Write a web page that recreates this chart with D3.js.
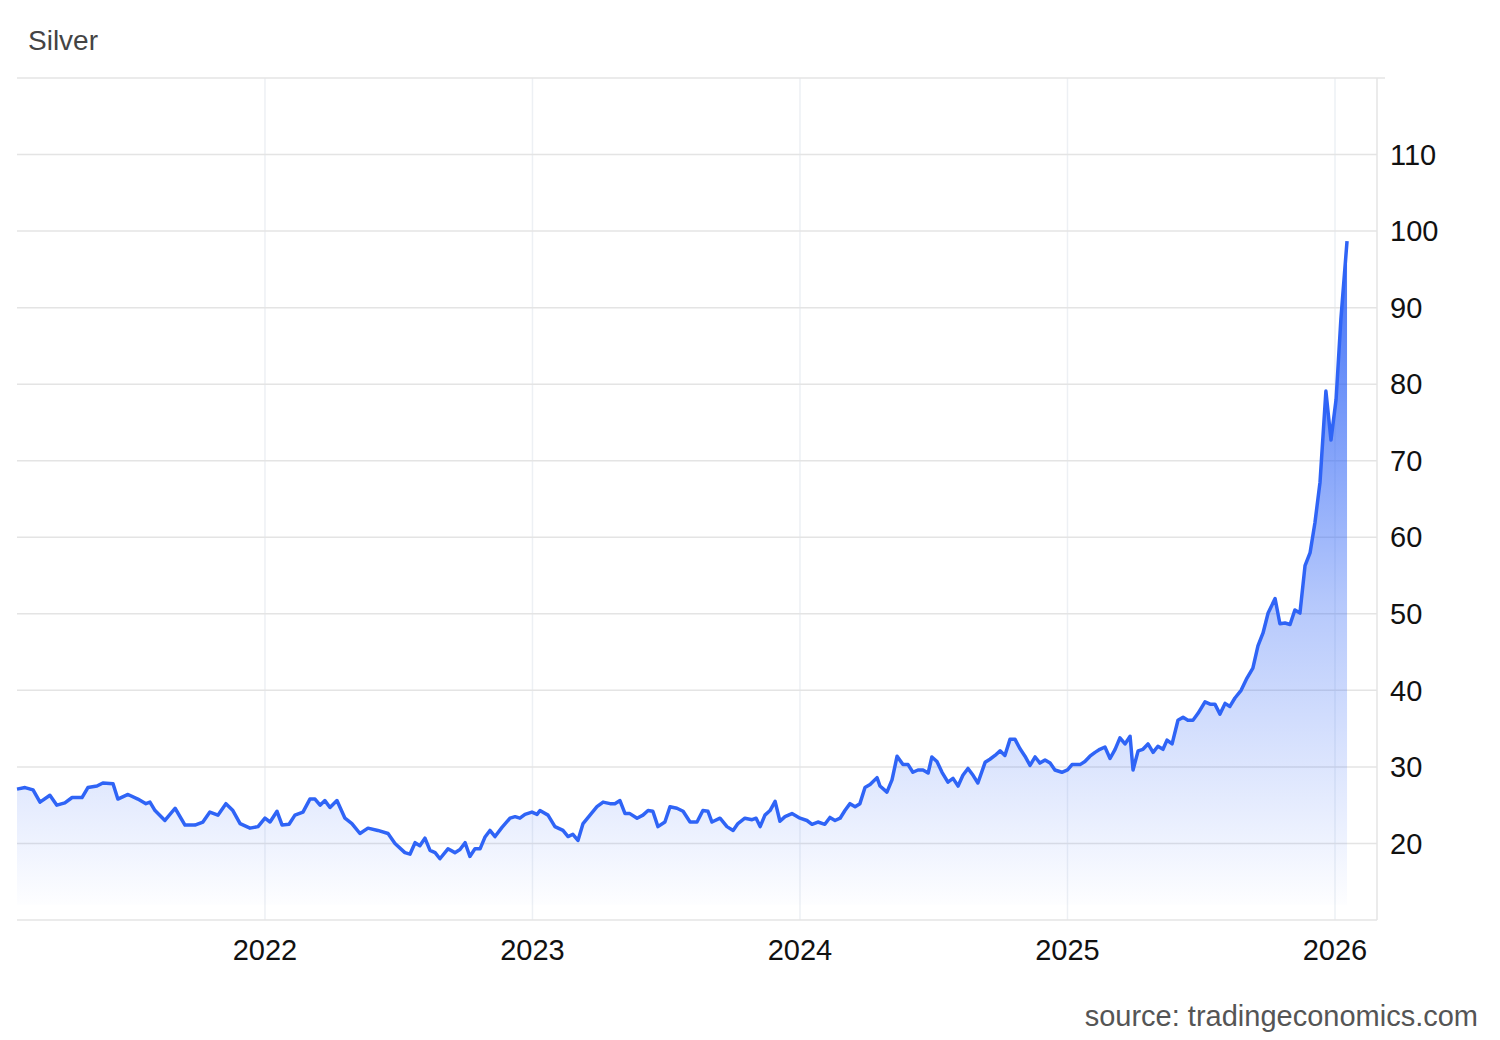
<!DOCTYPE html>
<html>
<head>
<meta charset="utf-8">
<script src="https://cdn.jsdelivr.net/npm/d3@7"></script>
<style>
  body { margin: 0; background: #fff; }
  svg text { font-family: "Liberation Sans", Arial, sans-serif; }
</style>
</head>
<body>
<div id="chart"></div>
<script>
'use strict';

var years = [
  2021.073, 2021.103, 2021.133, 2021.159, 2021.196, 2021.222, 2021.252, 2021.279, 2021.316, 2021.338,
  2021.372, 2021.394, 2021.432, 2021.450, 2021.488, 2021.525, 2021.555, 2021.570, 2021.589, 2021.626,
  2021.664, 2021.701, 2021.738, 2021.768, 2021.794, 2021.824, 2021.854, 2021.880, 2021.907, 2021.944,
  2021.974, 2022.000, 2022.019, 2022.045, 2022.064, 2022.090, 2022.112, 2022.142, 2022.168, 2022.187,
  2022.206, 2022.224, 2022.243, 2022.269, 2022.299, 2022.325, 2022.355, 2022.385, 2022.422, 2022.460,
  2022.486, 2022.523, 2022.542, 2022.561, 2022.579, 2022.598, 2022.617, 2022.636, 2022.654, 2022.684,
  2022.710, 2022.729, 2022.748, 2022.766, 2022.785, 2022.804, 2022.822, 2022.841, 2022.860, 2022.886,
  2022.916, 2022.935, 2022.953, 2022.972, 2022.998, 2023.017, 2023.028, 2023.058, 2023.084, 2023.114,
  2023.133, 2023.151, 2023.170, 2023.189, 2023.215, 2023.241, 2023.264, 2023.290, 2023.308, 2023.327,
  2023.346, 2023.364, 2023.391, 2023.413, 2023.432, 2023.450, 2023.469, 2023.495, 2023.514, 2023.540,
  2023.563, 2023.589, 2023.615, 2023.637, 2023.656, 2023.671, 2023.701, 2023.727, 2023.750, 2023.768,
  2023.794, 2023.821, 2023.836, 2023.851, 2023.869, 2023.888, 2023.907, 2023.925, 2023.944, 2023.970,
  2024.000, 2024.026, 2024.045, 2024.067, 2024.093, 2024.112, 2024.131, 2024.150, 2024.168, 2024.187,
  2024.206, 2024.224, 2024.243, 2024.262, 2024.288, 2024.299, 2024.325, 2024.344, 2024.363, 2024.385,
  2024.404, 2024.422, 2024.441, 2024.460, 2024.479, 2024.493, 2024.512, 2024.531, 2024.553, 2024.572,
  2024.591, 2024.609, 2024.628, 2024.647, 2024.665, 2024.692, 2024.710, 2024.729, 2024.748, 2024.766,
  2024.785, 2024.804, 2024.822, 2024.841, 2024.860, 2024.879, 2024.897, 2024.916, 2024.935, 2024.953,
  2024.979, 2025.000, 2025.017, 2025.047, 2025.065, 2025.084, 2025.103, 2025.121, 2025.140, 2025.159,
  2025.178, 2025.196, 2025.215, 2025.234, 2025.245, 2025.264, 2025.282, 2025.301, 2025.320, 2025.338,
  2025.357, 2025.372, 2025.391, 2025.413, 2025.432, 2025.450, 2025.469, 2025.488, 2025.514, 2025.533,
  2025.551, 2025.570, 2025.589, 2025.607, 2025.626, 2025.649, 2025.671, 2025.693, 2025.712, 2025.731,
  2025.750, 2025.776, 2025.794, 2025.813, 2025.832, 2025.850, 2025.869, 2025.888, 2025.907, 2025.925,
  2025.944, 2025.966, 2025.985, 2026.004, 2026.022, 2026.045
];

var prices = [
  27.1, 27.3, 27.0, 25.4, 26.3, 25.0, 25.3, 26.0, 26.0, 27.3,
  27.5, 27.9, 27.8, 25.8, 26.4, 25.8, 25.2, 25.4, 24.3, 23.0,
  24.6, 22.4, 22.4, 22.8, 24.1, 23.7, 25.2, 24.3, 22.6, 22.0,
  22.2, 23.3, 22.8, 24.2, 22.4, 22.5, 23.7, 24.1, 25.8, 25.8,
  25.0, 25.6, 24.7, 25.6, 23.3, 22.6, 21.3, 22.0, 21.7, 21.3,
  20.0, 18.8, 18.6, 20.1, 19.7, 20.7, 19.1, 18.8, 18.0, 19.3,
  18.8, 19.2, 20.1, 18.3, 19.3, 19.3, 20.8, 21.7, 20.9, 22.1,
  23.3, 23.5, 23.3, 23.8, 24.1, 23.8, 24.3, 23.7, 22.2, 21.7,
  20.9, 21.2, 20.4, 22.6, 23.7, 24.8, 25.4, 25.2, 25.2, 25.6,
  23.9, 23.9, 23.3, 23.7, 24.3, 24.2, 22.2, 22.8, 24.8, 24.6,
  24.2, 22.8, 22.8, 24.3, 24.2, 22.8, 23.3, 22.2, 21.7, 22.6,
  23.3, 23.1, 23.3, 22.2, 23.7, 24.3, 25.5, 22.9, 23.5, 23.9,
  23.3, 23.0, 22.5, 22.8, 22.5, 23.4, 23.0, 23.3, 24.3, 25.2,
  24.8, 25.2, 27.3, 27.7, 28.6, 27.5, 26.7, 28.3, 31.4, 30.3,
  30.3, 29.3, 29.6, 29.6, 29.2, 31.3, 30.7, 29.3, 28.0, 28.5,
  27.5, 28.9, 29.8, 28.9, 27.9, 30.6, 31.0, 31.5, 32.1, 31.5,
  33.6, 33.6, 32.4, 31.4, 30.2, 31.3, 30.5, 30.9, 30.5, 29.6,
  29.3, 29.6, 30.3, 30.3, 30.7, 31.4, 31.9, 32.3, 32.6, 31.1,
  32.3, 33.8, 33.0, 34.0, 29.6, 32.1, 32.3, 33.0, 31.9, 32.7,
  32.3, 33.5, 33.0, 36.1, 36.5, 36.1, 36.1, 37.0, 38.5, 38.2,
  38.2, 36.9, 38.3, 37.9, 39.0, 40.0, 41.6, 42.9, 45.8, 47.5,
  50.1, 52.0, 48.7, 48.8, 48.6, 50.5, 50.1, 56.3, 58.0, 61.9,
  67.2, 79.1, 72.7, 78.0, 88.5, 98.7
];

var yTicks = [20, 30, 40, 50, 60, 70, 80, 90, 100, 110];
var xTicks = [2022, 2023, 2024, 2025, 2026];

var chartWidth = 1500, chartHeight = 1040;
var plotLeft = 17, plotRight = 1377, plotTop = 78, plotBottom = 920;
var lineColor = '#2f64f6';

var data = years.map(function(t, i) { return { t: t, v: prices[i] }; });

var x = d3.scaleLinear().domain([2021.073, 2026.157]).range([plotLeft, plotRight]);
var y = d3.scaleLinear().domain([10, 120]).range([plotBottom, plotTop]);

var svg = d3.select('#chart').append('svg')
  .attr('width', chartWidth)
  .attr('height', chartHeight);

var grad = svg.append('defs').append('linearGradient')
  .attr('id', 'fillGrad')
  .attr('gradientUnits', 'userSpaceOnUse')
  .attr('x1', 0).attr('x2', 0)
  .attr('y1', y(100)).attr('y2', y(11));
grad.append('stop').attr('offset', '0%').attr('stop-color', lineColor).attr('stop-opacity', 0.95);
grad.append('stop').attr('offset', '55%').attr('stop-color', lineColor).attr('stop-opacity', 0.35);
grad.append('stop').attr('offset', '100%').attr('stop-color', lineColor).attr('stop-opacity', 0.0);

// vertical grid
svg.append('g').selectAll('line').data(xTicks).join('line')
  .attr('x1', function(d) { return x(d); }).attr('x2', function(d) { return x(d); })
  .attr('y1', plotTop).attr('y2', plotBottom)
  .attr('stroke', '#edf0f4').attr('stroke-width', 1.5);

// horizontal grid
svg.append('g').selectAll('line').data(yTicks).join('line')
  .attr('x1', plotLeft).attr('x2', plotRight)
  .attr('y1', function(d) { return y(d); }).attr('y2', function(d) { return y(d); })
  .attr('stroke', '#e4e4e4').attr('stroke-width', 1.5);

// frame
svg.append('line').attr('x1', plotLeft).attr('x2', plotRight + 8).attr('y1', plotTop).attr('y2', plotTop)
  .attr('stroke', '#e4e4e4').attr('stroke-width', 1.5);
svg.append('line').attr('x1', plotLeft).attr('x2', plotRight).attr('y1', plotBottom).attr('y2', plotBottom)
  .attr('stroke', '#e4e4e4').attr('stroke-width', 1.5);
svg.append('line').attr('x1', plotRight).attr('x2', plotRight).attr('y1', plotTop).attr('y2', plotBottom)
  .attr('stroke', '#e4e4e4').attr('stroke-width', 1.5);

var area = d3.area()
  .x(function(d) { return x(d.t); })
  .y0(y(12))
  .y1(function(d) { return y(d.v); });

var line = d3.line()
  .x(function(d) { return x(d.t); })
  .y(function(d) { return y(d.v); });

svg.append('path').datum(data).attr('d', area).attr('fill', 'url(#fillGrad)');
svg.append('path').datum(data).attr('d', line)
  .attr('fill', 'none').attr('stroke', lineColor)
  .attr('stroke-width', 3.5).attr('stroke-linejoin', 'round');

// y labels
svg.append('g').selectAll('text').data(yTicks).join('text')
  .attr('x', 1390).attr('y', function(d) { return y(d); })
  .attr('dy', '0.35em')
  .attr('font-size', 29).attr('fill', '#111')
  .text(function(d) { return d; });

// x labels
svg.append('g').selectAll('text').data(xTicks).join('text')
  .attr('x', function(d) { return x(d); }).attr('y', 960)
  .attr('text-anchor', 'middle')
  .attr('font-size', 29).attr('fill', '#111')
  .text(function(d) { return d; });

svg.append('text').attr('x', 28).attr('y', 50)
  .attr('font-size', 28).attr('fill', '#444').text('Silver');

svg.append('text').attr('x', 1478).attr('y', 1026)
  .attr('text-anchor', 'end')
  .attr('font-size', 29).attr('fill', '#555').text('source: tradingeconomics.com');
</script>
</body>
</html>
